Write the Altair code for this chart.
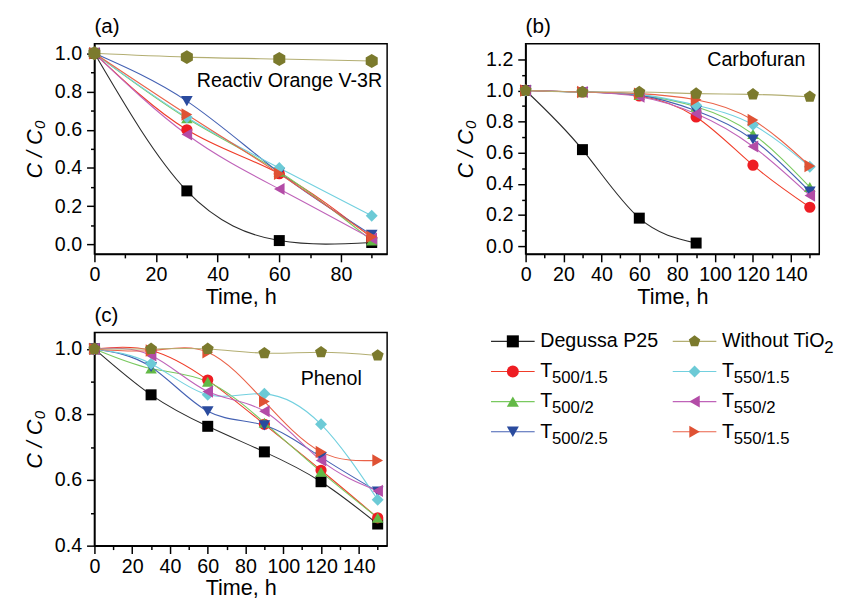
import altair as alt
import pandas as pd

FONT = "Liberation Sans"

# ---- series definitions -------------------------------------------------
SERIES = ["P25", "T500_1.5", "T500_2", "T500_2.5", "T550_1.5a", "T550_2", "T550_1.5b", "none"]
FILL_COLORS = ["#000000", "#ee1d23", "#63b946", "#2a4b9e", "#6ccad6", "#b34ca7", "#df5234", "#7b7a2d"]
LINE_COLORS = ["#2b2b2b", "#f03c28", "#79c95f", "#4461b3", "#72d0df", "#bf63b9", "#ea6248", "#b3ae72"]
PENTAGON = "M0,-1L0.951,-0.309L0.588,0.809L-0.588,0.809L-0.951,-0.309Z"
HEXAGON = "M0,-1L0.866,-0.5L0.866,0.5L0,1L-0.866,0.5L-0.866,-0.5Z"
SHAPES = ["square", "circle", "triangle-up", "triangle-down", "diamond",
          "triangle-left", "triangle-right", PENTAGON]
SIZES = [125, 165, 200, 200, 190, 200, 200, 230]

# ---- panel (a): Reactiv Orange V-3R ------------------------------------
TIME_A = [0, 30, 60, 90]
A_P25 = [1.00, 0.28, 0.02, 0.01]
A_T500_15 = [1.00, 0.60, 0.37, 0.035]
A_T500_2 = [1.00, 0.66, 0.38, 0.02]
A_T500_25 = [1.00, 0.75, 0.375, 0.05]
A_T550_15a = [1.00, 0.665, 0.40, 0.15]
A_T550_2 = [1.00, 0.575, 0.29, 0.03]
A_T550_15b = [1.00, 0.68, 0.37, 0.04]
A_NONE = [1.00, 0.98, 0.97, 0.96]

# ---- panel (b): Carbofuran ---------------------------------------------
TIME_B = [0, 30, 60, 90, 120, 150]
B_P25 = [1.00, 0.62, 0.18, 0.02]
B_T500_15 = [1.00, 0.99, 0.965, 0.83, 0.52, 0.25]
B_T500_2 = [1.00, 0.99, 0.97, 0.895, 0.72, 0.38]
B_T500_25 = [1.00, 0.99, 0.97, 0.87, 0.685, 0.35]
B_T550_15a = [1.00, 0.99, 0.975, 0.905, 0.78, 0.51]
B_T550_2 = [1.00, 0.99, 0.96, 0.85, 0.64, 0.325]
B_T550_15b = [1.00, 0.99, 0.98, 0.94, 0.81, 0.515]
B_NONE = [1.00, 0.99, 0.99, 0.98, 0.975, 0.96]

# ---- panel (c): Phenol -------------------------------------------------
TIME_C = [0, 30, 60, 90, 120, 150]
C_P25 = [1.00, 0.86, 0.764, 0.686, 0.595, 0.466]
C_T500_15 = [1.00, 0.995, 0.905, 0.77, 0.63, 0.485]
C_T500_2 = [1.00, 0.94, 0.90, 0.775, 0.625, 0.485]
C_T500_25 = [1.00, 0.945, 0.81, 0.767, 0.67, 0.565]
C_T550_15a = [1.00, 0.955, 0.86, 0.863, 0.77, 0.54]
C_T550_2 = [1.00, 0.98, 0.87, 0.81, 0.66, 0.567]
C_T550_15b = [1.00, 0.995, 0.99, 0.84, 0.686, 0.66]
C_NONE = [1.00, 1.00, 1.00, 0.987, 0.99, 0.98]

# ---- legend ------------------------------------------------------------
LEG_IDS = ["P25", "T500_1.5", "T500_2", "T500_2.5", "none", "T550_1.5a", "T550_2", "T550_1.5b"]
LEG_MAIN = ["Degussa P25", "T", "T", "T", "Without TiO", "T", "T", "T"]
LEG_SUB = ["", "500/1.5", "500/2", "500/2.5", "2", "550/1.5", "550/2", "550/1.5"]
LEG_COL = [0, 0, 0, 0, 1, 1, 1, 1]
LEG_ROW = [0, 1, 2, 3, 0, 1, 2, 3]


def long_df(times, series_lists):
    rows = []
    for sid, vals in zip(SERIES, series_lists):
        for t, v in zip(times, vals):
            rows.append({"s": sid, "t": t, "v": v})
    return pd.DataFrame(rows)


DF_A = long_df(TIME_A, [A_P25, A_T500_15, A_T500_2, A_T500_25, A_T550_15a, A_T550_2, A_T550_15b, A_NONE])
DF_B = long_df(TIME_B, [B_P25, B_T500_15, B_T500_2, B_T500_25, B_T550_15a, B_T550_2, B_T550_15b, B_NONE])
DF_C = long_df(TIME_C, [C_P25, C_T500_15, C_T500_2, C_T500_25, C_T550_15a, C_T550_2, C_T550_15b, C_NONE])


def x_axis(values):
    return alt.Axis(
        values=values, title="Time, h", grid=False, format="d",
        labelExpr="datum.value % 20 === 0 ? datum.label : ''",
        tickSize={"condition": {"test": "datum.value % 20 === 0", "value": 8}, "value": 4},
        labelFlush=False, labelOverlap=False, labelPadding=3, titlePadding=2,
    )


def y_axis(values):
    return alt.Axis(
        values=values, title="C / C₀", grid=False, format=".1f",
        labelExpr="round(datum.value * 10) % 2 === 0 ? datum.label : ''",
        tickSize={"condition": {"test": "round(datum.value * 10) % 2 === 0", "value": 8}, "value": 4},
        labelFlush=False, labelOverlap=False, labelPadding=5, titlePadding=8,
        titleFontStyle="italic",
    )


def make_panel(df, xdom, ydom, xvals, yvals, title, note, note_t, note_v, note_align, w, h, hex_none=False):
    X = alt.X("t:Q", scale=alt.Scale(domain=xdom, nice=False, zero=False), axis=x_axis(xvals))
    Y = alt.Y("v:Q", scale=alt.Scale(domain=ydom, nice=False, zero=False), axis=y_axis(yvals))
    base = alt.Chart(df)
    lines = base.mark_line(interpolate="natural", strokeWidth=1.1).encode(
        x=X, y=Y,
        stroke=alt.Stroke("s:N", scale=alt.Scale(domain=SERIES, range=LINE_COLORS), legend=None),
        detail="s:N",
    )
    pts_base = base
    if hex_none:
        pts_base = base.transform_filter("datum.s !== 'none'")
    points = pts_base.mark_point(filled=True, opacity=1, strokeWidth=0).encode(
        x=X, y=Y,
        fill=alt.Fill("s:N", scale=alt.Scale(domain=SERIES, range=FILL_COLORS), legend=None),
        shape=alt.Shape("s:N", scale=alt.Scale(domain=SERIES, range=SHAPES), legend=None),
        size=alt.Size("s:N", scale=alt.Scale(domain=SERIES, range=SIZES), legend=None),
    )
    layers = [lines, points]
    if hex_none:
        hexes = base.transform_filter("datum.s === 'none'").mark_point(
            filled=True, opacity=1, strokeWidth=0, shape=HEXAGON, size=200, color=FILL_COLORS[-1]
        ).encode(x=X, y=Y)
        layers.append(hexes)
    note_df = pd.DataFrame({"t": [note_t], "v": [note_v], "txt": [note]})
    txt = alt.Chart(note_df).mark_text(
        align=note_align, baseline="middle", font=FONT, fontSize=20, color="black"
    ).encode(x=X, y=Y, text="txt:N")
    layers.append(txt)
    return alt.layer(*layers).properties(
        width=w, height=h,
        title=alt.TitleParams(title, frame="group", anchor="start", offset=7, fontSize=21,
                              font=FONT, fontWeight="normal", color="black"),
    )


pa = make_panel(DF_A, [0, 95], [-0.05, 1.05], list(range(0, 91, 10)),
                [round(0.1 * i, 1) for i in range(0, 11)],
                "(a)", "Reactiv Orange V-3R", 93.4, 0.857, "right", 298, 214, hex_none=True)
pb = make_panel(DF_B, [0, 155], [-0.05, 1.3], list(range(0, 151, 10)),
                [round(0.1 * i, 1) for i in range(0, 13)],
                "(b)", "Carbofuran", 147.7, 1.197, "right", 299, 214)
pc = make_panel(DF_C, [0, 155], [0.4, 1.05], list(range(0, 151, 10)),
                [round(0.1 * i, 1) for i in range(4, 11)],
                "(c)", "Phenol", 109.2, 0.908, "left", 298, 217)

# ---- custom legend -----------------------------------------------------
LEG_DF = pd.DataFrame({"s": LEG_IDS, "main": LEG_MAIN, "sub": LEG_SUB, "col": LEG_COL, "row": LEG_ROW})
LXS = alt.Scale(domain=[0.0703, 1.6865], nice=False, zero=False)
LYS = alt.Scale(domain=[-0.293, 6.782], reverse=True, nice=False, zero=False)
LY = alt.Y("row:Q", scale=LYS, axis=None)
lbase = alt.Chart(LEG_DF).transform_calculate(
    x0="datum.col - 0.12", x1="datum.col + 0.12", tx="datum.col + 0.151"
)
leg_lines = lbase.mark_rule(strokeWidth=1.1).encode(
    x=alt.X("x0:Q", scale=LXS, axis=None), x2="x1:Q", y=LY,
    stroke=alt.Stroke("s:N", scale=alt.Scale(domain=SERIES, range=LINE_COLORS), legend=None),
)
leg_pts = lbase.mark_point(filled=True, opacity=1, strokeWidth=0, size=150).encode(
    x=alt.X("col:Q", scale=LXS, axis=None), y=LY,
    fill=alt.Fill("s:N", scale=alt.Scale(domain=SERIES, range=FILL_COLORS), legend=None),
    shape=alt.Shape("s:N", scale=alt.Scale(domain=SERIES, range=SHAPES), legend=None),
)
leg_main = lbase.mark_text(align="left", baseline="middle", font=FONT, fontSize=20, color="black").encode(
    x=alt.X("tx:Q", scale=LXS, axis=None), y=LY, text="main:N"
)
leg_sub_t = lbase.transform_filter("datum.main === 'T'").mark_text(
    align="left", baseline="middle", font=FONT, fontSize=17, color="black", dx=12, dy=7
).encode(x=alt.X("tx:Q", scale=LXS, axis=None), y=LY, text="sub:N")
leg_sub_w = lbase.transform_filter("datum.main === 'Without TiO'").mark_text(
    align="left", baseline="middle", font=FONT, fontSize=17, color="black", dx=104, dy=7
).encode(x=alt.X("tx:Q", scale=LXS, axis=None), y=LY, text="sub:N")

legend = alt.layer(leg_lines, leg_pts, leg_main, leg_sub_t, leg_sub_w).properties(
    width=299, height=217, view=alt.ViewBackground(stroke="transparent")
)

chart = alt.concat(
    pa, pb, pc, legend, columns=2, spacing={"row": 80, "column": 141}, bounds="flush"
).properties(
    padding={"left": 15, "top": 1, "right": 0, "bottom": 0}
).configure_axis(
    domainColor="black", domainWidth=1.5, tickColor="black", tickWidth=1.5,
    labelFont=FONT, labelFontSize=20, labelColor="black",
    titleFont=FONT, titleFontSize=22, titleFontWeight="normal", titleColor="black",
).configure_view(stroke="black", strokeWidth=1.5)

chart.save("out.html", embed_options={"renderer": "svg", "actions": False})
